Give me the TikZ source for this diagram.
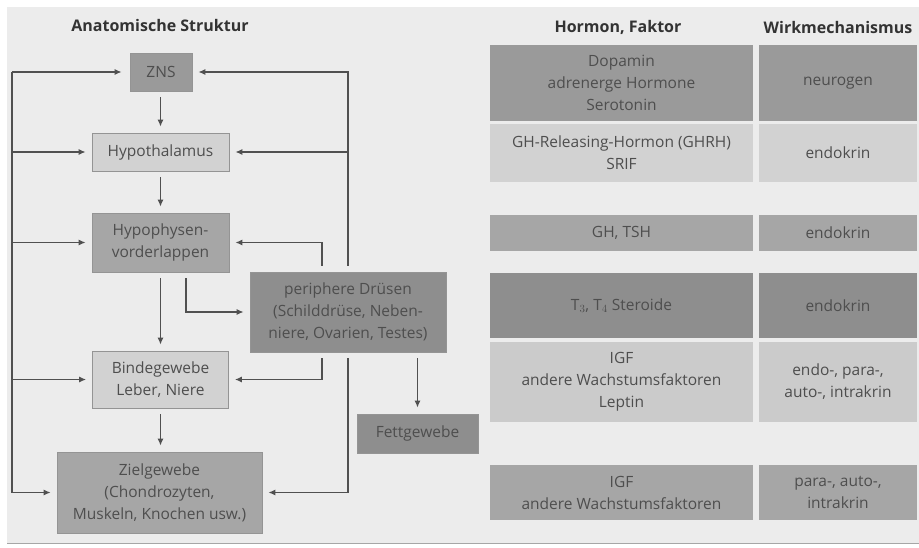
\documentclass[tikz,border=0pt]{standalone}
\usepackage{fontspec}
\setmainfont{Open Sans}
\usetikzlibrary{arrows.meta}
\definecolor{bgc}{HTML}{ECECEC}
\definecolor{txt}{HTML}{4E4E4E}
\definecolor{lnc}{HTML}{505050}
\definecolor{cA}{HTML}{9A9A9A}
\definecolor{cB}{HTML}{D2D2D2}
\definecolor{cC}{HTML}{A6A6A6}
\definecolor{cD}{HTML}{8E8E8E}
\definecolor{cE}{HTML}{CBCBCB}
\tikzset{
  basebox/.style={rectangle, inner sep=0pt, align=center, text=txt,
    font=\fontsize{15.5}{22}\selectfont},
  flowbox/.style={basebox, draw=black!42, line width=0.6pt},
  cell/.style={basebox},
  head/.style={text=black!80, font=\fontsize{16}{18}\selectfont\bfseries},
  conn/.style={draw=lnc, line width=1.4pt, -{Latex[length=7pt,width=6pt]}, shorten >=6pt},
  plain/.style={draw=lnc, line width=1.4pt}
}
\begin{document}
\begin{tikzpicture}[x=1pt,y=-1pt]
\useasboundingbox (0,0) rectangle (919,547);
\fill[white] (0,0) rectangle (919,547);
\fill[bgc] (7,7) rectangle (919,543);
\draw[black!35, line width=1pt] (7,543.5) -- (919,543.5);

% headers
\node[head] (hA) at (160,25) {Anatomische Struktur};
\node[head] (hB) at (618,27) {Hormon, Faktor};
\node[head] (hC) at (838,27) {Wirkmechanismus};

% flow boxes
\node[flowbox, fill=cA, minimum width=62, minimum height=38] (zns) at (161,72) {ZNS};
\node[flowbox, fill=cB, minimum width=137, minimum height=38] (hyp) at (160.5,152) {Hypothalamus};
\node[flowbox, fill=cC, minimum width=137, minimum height=59] (hvl) at (160.5,242.5) {Hypophysen-\\vorderlappen};
\node[flowbox, fill=cD, minimum width=196, minimum height=80] (pd) at (348,312) {periphere Drüsen\\(Schilddrüse, Neben-\\niere, Ovarien, Testes)};
\node[flowbox, fill=cB, minimum width=136, minimum height=57] (bg) at (160.5,379.5) {Bindegewebe\\Leber, Niere};
\node[flowbox, fill=cD, minimum width=121, minimum height=39] (fg) at (417.5,433.5) {Fettgewebe};
\node[flowbox, fill=cC, minimum width=205, minimum height=81] (zg) at (159.5,492.5) {Zielgewebe\\(Chondrozyten,\\Muskeln, Knochen usw.)};

% left feedback line
\coordinate (ltop) at (12,72);
\coordinate (lbot) at (12,492.5);
\draw[plain] (ltop) -- (lbot);
\draw[conn, shorten >=8pt] (ltop) -- (zns.west);
\draw[conn] (ltop |- hyp.west) -- (hyp.west);
\draw[conn] (ltop |- hvl.west) -- (hvl.west);
\draw[conn] (ltop |- bg.west) -- (bg.west);
\draw[conn] (lbot) -- (zg.west);

% main vertical chain
\draw[conn, shorten <=6pt] (zns.south -| hyp.north) -- (hyp.north);
\draw[conn, shorten <=6pt] (hyp.south) -- (hvl.north);
\draw[conn, shorten <=6pt] (hvl.south) -- (bg.north);
\draw[conn, shorten <=6pt] (bg.south) -- (bg.south |- zg.north);
\draw[conn, shorten <=6pt] ([xshift=25.5pt]hvl.south) |- (pd.west);

% right feedback lines from periphere Druesen
\draw[conn, shorten <=6pt] (pd.north) |- (zns.east);
\draw[conn] (pd.north |- hyp.east) -- (hyp.east);
\draw[conn, shorten <=6pt] ([xshift=-26pt]pd.north) |- (hvl.east);
\draw[conn, shorten <=6pt] ([xshift=-26pt]pd.south) |- (bg.east);
\draw[conn, shorten <=6pt] (pd.south) |- (zg.east);
\draw[conn, shorten <=6pt] (fg.north |- pd.south) -- (fg.north);

% table
\node[cell, fill=cA, minimum width=263, minimum height=76] (r1a) at (621.5,83) {Dopamin\\adrenerge Hormone\\Serotonin};
\node[cell, fill=cA, minimum width=158, minimum height=76] (r1b) at (838,83) {neurogen};
\node[cell, fill=cB, minimum width=263, minimum height=58] (r2a) at (621.5,153) {GH-Releasing-Hormon (GHRH)\\SRIF};
\node[cell, fill=cB, minimum width=158, minimum height=58] (r2b) at (838,153) {endokrin};
\node[cell, fill=cC, minimum width=263, minimum height=36] (r3a) at (621.5,233) {GH, TSH};
\node[cell, fill=cC, minimum width=158, minimum height=36] (r3b) at (838,233) {endokrin};
\node[cell, fill=cD, minimum width=263, minimum height=65] (r4a) at (621.5,305.5) {T$_3$, T$_4$ Steroide};
\node[cell, fill=cD, minimum width=158, minimum height=65] (r4b) at (838,305.5) {endokrin};
\node[cell, fill=cE, minimum width=263, minimum height=80] (r5a) at (621.5,382) {IGF\\andere Wachstumsfaktoren\\Leptin};
\node[cell, fill=cE, minimum width=158, minimum height=80] (r5b) at (838,382) {endo-, para-,\\auto-, intrakrin};
\node[cell, fill=cC, minimum width=263, minimum height=55] (r6a) at (621.5,492.5) {IGF\\andere Wachstumsfaktoren};
\node[cell, fill=cC, minimum width=158, minimum height=55] (r6b) at (838,492.5) {para-, auto-,\\intrakrin};
\end{tikzpicture}
\end{document}
